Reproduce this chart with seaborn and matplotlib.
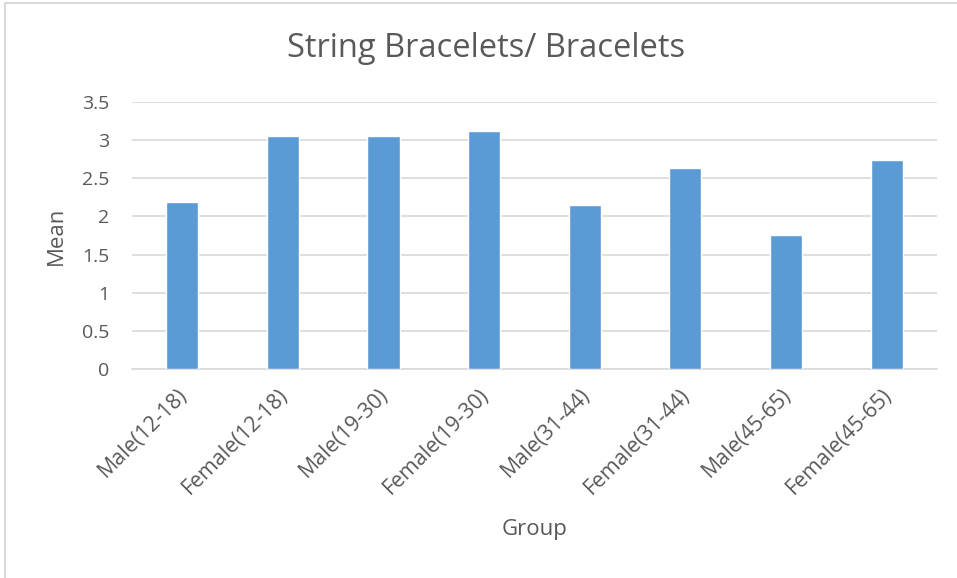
import matplotlib
matplotlib.use("Agg")
import matplotlib.pyplot as plt
import seaborn as sns
import pandas as pd
from matplotlib.patches import Rectangle
from matplotlib.transforms import ScaledTranslation

groups = ["Male(12-18)", "Female(12-18)", "Male(19-30)", "Female(19-30)",
          "Male(31-44)", "Female(31-44)", "Male(45-65)", "Female(45-65)"]
means = [2.19, 3.06, 3.06, 3.12, 2.15, 2.64, 1.76, 2.74]
yticks = [0, 0.5, 1, 1.5, 2, 2.5, 3, 3.5]
ytick_labels = ["0", "0.5", "1", "1.5", "2", "2.5", "3", "3.5"]

df = pd.DataFrame({"Group": groups, "Mean": means})

sns.set_theme(style="white")
plt.rcParams["font.family"] = ["Open Sans", "DejaVu Sans"]
text_color = "#595959"
bar_color = "#5B9BD5"
grid_color = "#D9D9D9"

fig = plt.figure(figsize=(9.57, 5.78), dpi=100)
ax = fig.add_axes([0.138, 0.3616, 0.841, 0.4619])

sns.barplot(data=df, x="Group", y="Mean", color=bar_color, width=0.32,
            saturation=1, ax=ax, zorder=3)

ax.set_ylim(0, 3.5)
ax.set_xlim(-0.5, len(groups) - 0.5)
ax.set_yticks(yticks)
ax.set_yticklabels(ytick_labels)
ax.yaxis.grid(True, color=grid_color, linewidth=1.2, zorder=0)
ax.set_axisbelow(True)
for s in ["top", "right", "left"]:
    ax.spines[s].set_visible(False)
ax.spines["bottom"].set_color(grid_color)
ax.spines["bottom"].set_linewidth(1.2)

ax.tick_params(axis="both", length=0, colors=text_color)
ax.tick_params(axis="y", labelsize=14, pad=16.5)
ax.set_xticks(range(len(groups)))
ax.set_xticklabels(groups, rotation=45, ha="right", va="top",
                   rotation_mode="anchor", fontsize=15.3, color=text_color)
ax.tick_params(axis="x", pad=11)
shift = ScaledTranslation(-4 / 72, 0, fig.dpi_scale_trans)
for lbl in ax.get_xticklabels():
    lbl.set_transform(lbl.get_transform() + shift)

ax.set_xlabel("Group", fontsize=16, color=text_color)
ax.xaxis.set_label_coords(0.5, -0.56)
ax.set_ylabel("Mean", fontsize=16, color=text_color)
ax.yaxis.set_label_coords(-0.081, 0.5)

fig.text(0.508, 0.9009, "String Bracelets/ Bracelets", ha="center", va="baseline",
         fontsize=23.5, color=text_color)

fig.patches.append(Rectangle((0.005, -0.01), 1.2, 1.005, transform=fig.transFigure,
                             fill=False, edgecolor=grid_color, linewidth=1.5))

fig.savefig("out.png", dpi=100, facecolor="white")
